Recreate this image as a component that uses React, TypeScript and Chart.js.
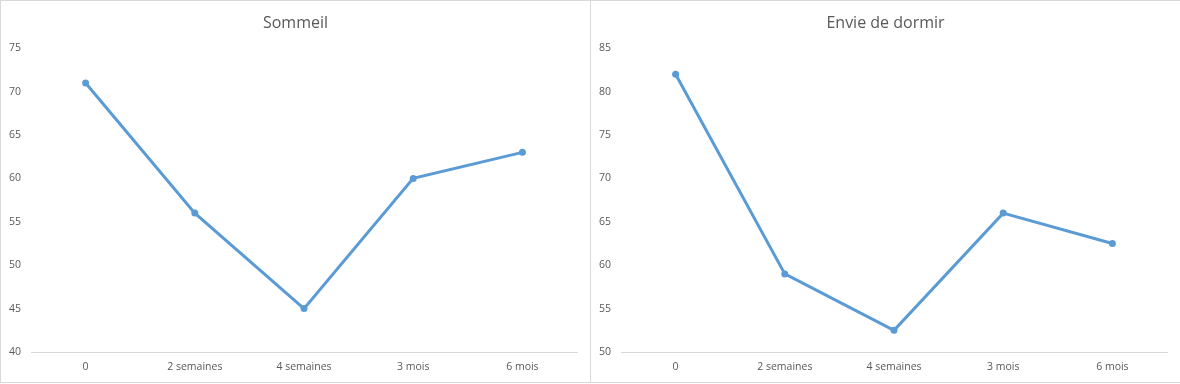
import React, { useEffect, useRef } from "react";
import { Chart, registerables } from "chart.js";

Chart.register(...registerables);

const categories = ["0", "2 semaines", "4 semaines", "3 mois", "6 mois"];
const sommeilValues = [71, 56, 45, 60, 63];
const envieValues = [82, 59, 52.5, 66, 62.5];
const sommeilTitle = "Sommeil";
const envieTitle = "Envie de dormir";
const sommeilRange = [40, 75];
const envieRange = [50, 85];

const FONT = "'Open Sans', 'Noto Sans', sans-serif";
const TEXT = "#595959";

function LineChart({ title, values, range }: { title: string; values: number[]; range: number[] }) {
  const ref = useRef<HTMLCanvasElement>(null);
  useEffect(() => {
    const chart = new Chart(ref.current!, {
      type: "line",
      data: {
        labels: categories,
        datasets: [
          {
            data: values,
            borderColor: "#5b9bd5",
            backgroundColor: "#5b9bd5",
            borderWidth: 3,
            pointRadius: 3.5,
            pointBorderWidth: 0,
            tension: 0,
          },
        ],
      },
      options: {
        animation: false,
        responsive: false,
        maintainAspectRatio: false,
        layout: { padding: { left: 0, right: 0, top: 0, bottom: 0 } },
        plugins: {
          legend: { display: false },
          tooltip: { enabled: false },
          title: {
            display: true,
            text: title,
            color: TEXT,
            font: { family: FONT, size: 16, weight: "normal" },
            padding: { top: 13, bottom: 15 },
          },
        },
        scales: {
          x: {
            offset: true,
            grid: { display: false, drawTicks: false },
            border: { display: true, color: "#d9d9d9", width: 1 },
            ticks: { color: TEXT, font: { family: FONT, size: 10.5 }, padding: 9, maxRotation: 0 },
            afterFit: (s: any) => {
              s.height = 30;
            },
          },
          y: {
            min: range[0],
            max: range[1],
            grid: { display: false, drawTicks: false },
            border: { display: false },
            ticks: { stepSize: 5, color: TEXT, font: { family: FONT, size: 10.5 }, padding: 10 },
            afterFit: (s: any) => {
              s.width = 30;
            },
          },
          yRight: {
            type: "linear",
            position: "right",
            display: true,
            grid: { display: false, drawTicks: false },
            border: { display: false },
            ticks: { display: false },
            afterFit: (s: any) => {
              s.width = 13;
            },
          },
        },
      },
    });
    return () => chart.destroy();
  }, [title, values, range]);
  return <canvas ref={ref} width={589} height={381} style={{ display: "block" }} />;
}

export default function App() {
  useEffect(() => {
    document.body.style.margin = "0";
  }, []);
  const box: React.CSSProperties = {
    position: "absolute",
    top: 0,
    border: "1px solid #d9d9d9",
    background: "#fff",
  };
  return (
    <div style={{ position: "relative", width: 1180, height: 384, background: "#fff" }}>
      <div style={{ ...box, left: 0 }}>
        <LineChart title={sommeilTitle} values={sommeilValues} range={sommeilRange} />
      </div>
      <div style={{ ...box, left: 590 }}>
        <LineChart title={envieTitle} values={envieValues} range={envieRange} />
      </div>
    </div>
  );
}
